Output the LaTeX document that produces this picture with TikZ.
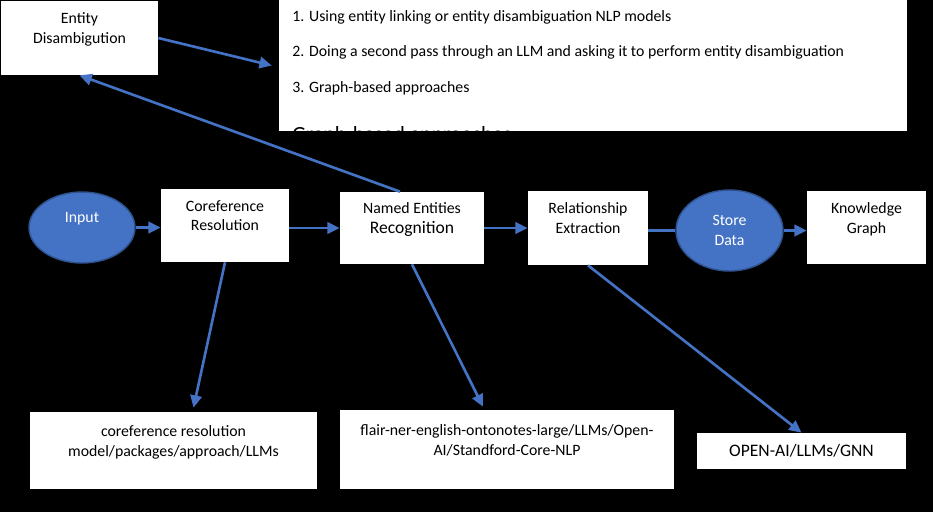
\documentclass[tikz,border=0pt]{standalone}
\usepackage{fontspec}
\setmainfont{Carlito}
\usepackage{xcolor}
\usetikzlibrary{arrows.meta, shapes.geometric}
\definecolor{nodeblue}{HTML}{4472C4}
\definecolor{nodeedge}{HTML}{2F528F}

\begin{document}
\begin{tikzpicture}[x=0.02cm, y=-0.02cm,
  box/.style={fill=white, inner sep=0pt, align=center, font=\fontsize{9}{11.3}\selectfont},
  blob/.style={ellipse, fill=nodeblue, draw=nodeedge, line width=0.8pt, inner sep=0pt, text=white, align=center, font=\fontsize{9}{11.3}\selectfont},
  arr/.style={draw=nodeblue, line width=1.5pt, -{Triangle[length=7pt,width=6.5pt]}},
  item/.style={anchor=base west, inner sep=0pt, font=\fontsize{9}{11.3}\selectfont}]
\fill[black] (0,0) rectangle (933,512);
\useasboundingbox (0,0) rectangle (933,512);

% disambiguation
\node[box, minimum width=3.14cm, minimum height=1.48cm] (ed) at (79.5,38) {Entity\\Disambigution\\\mbox{}};
\node[box, minimum width=12.56cm, minimum height=2.62cm] (lst) at (593,65.5) {};
\foreach \txt [count=\i] in {1. Using entity linking or entity disambiguation NLP models, 2. Doing a second pass through an LLM and asking it to perform entity disambiguation, 3. Graph-based approaches}
  \node[item] (item\i) at (292,{21+35.5*(\i-1)}) {\txt};
\begin{scope}
\clip (lst.north west) rectangle (lst.south east);
\node[item, font=\fontsize{12.3}{14}\selectfont] (item4) at (292,141) {Graph-based approaches};
\end{scope}

% pipeline
\node[blob, minimum width=2.12cm, minimum height=1.42cm] (in) at (82,227.5) {Input\\\mbox{}};
\node[box, minimum width=2.56cm, minimum height=1.46cm] (cr) at (225,225.5) {Coreference\\Resolution\\\mbox{}};
\node[box, minimum width=2.88cm, minimum height=1.44cm] (ner) at (412,228) {Named Entities\\{\fontsize{10}{12}\selectfont Recognition}\\\mbox{}};
\node[box, minimum width=2.4cm, minimum height=1.48cm] (re) at (588,228) {Relationship\\Extraction\\\mbox{}};
\node[blob, minimum width=2.14cm, minimum height=1.62cm] (sd) at (729.5,230.5) {Store\\Data};
\node[box, minimum width=2.38cm, minimum height=1.46cm] (kg) at (866.5,227.5) {Knowledge\\Graph\\\mbox{}};

% tools
\node[box, minimum width=5.74cm, minimum height=1.54cm] (crm) at (173.5,450.5) {coreference resolution\\model/packages/approach/LLMs\\\mbox{}};
\node[box, minimum width=6.68cm, minimum height=1.58cm] (nerm) at (507,449.5) {flair-ner-english-ontonotes-large/LLMs/Open-\\AI/Standford-Core-NLP\\\mbox{}};
\node[box, minimum width=4.18cm, minimum height=0.72cm, font=\fontsize{10}{12}\selectfont] (rem) at (801.5,451) {OPEN-AI/LLMs/GNN};

\draw[arr] (ed.east) -- ([xshift=-0.14cm]lst.west);
\draw[arr] ([xshift=-0.24cm]ner.north) -- (ed.south);
\draw[arr] (in.east) -- (in.east -| cr.west);
\draw[arr] (cr.east |- ner.west) -- (ner.west);
\draw[arr] (ner.east) -- (ner.east -| re.west);
\draw[draw=nodeblue, line width=1.5pt] (re.east |- sd.west) -- (sd.west);
\draw[arr] (sd.east) -- (sd.east -| kg.west);
\draw[arr] (cr.south) -- ([xshift=0.4cm,yshift=0.08cm]crm.north);
\draw[arr] (ner.south) -- ([xshift=-0.48cm,yshift=0.06cm]nerm.north);
\draw[arr] (re.south) -- (rem.north);
\end{tikzpicture}
\end{document}
